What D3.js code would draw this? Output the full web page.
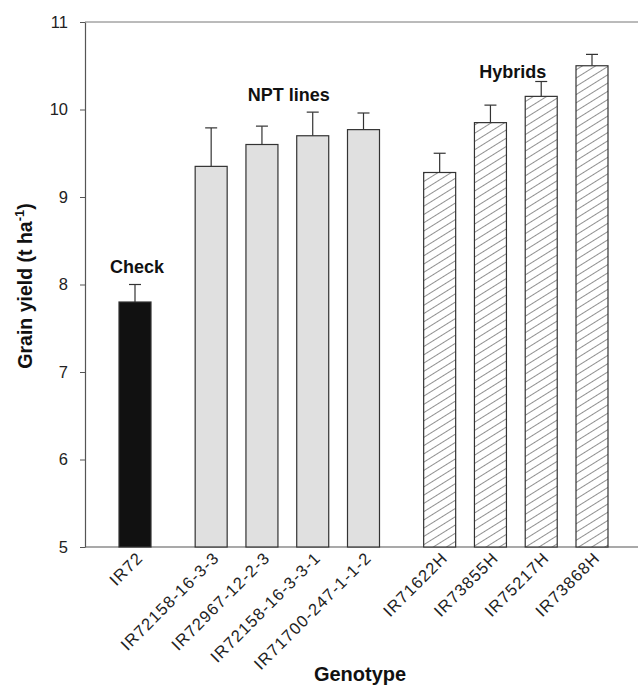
<!DOCTYPE html>
<html>
<head>
<meta charset="utf-8">
<script src="https://cdn.jsdelivr.net/npm/d3@7"></script>
<style>
  body { margin: 0; background: #fff; }
  svg { font-family: Arial, "Liberation Sans", sans-serif; }
</style>
</head>
<body>
<div id="chart"></div>
<script>
// Grain yield by genotype
const genotypes = ['IR72', 'IR72158-16-3-3', 'IR72967-12-2-3', 'IR72158-16-3-3-1', 'IR71700-247-1-1-2',
                   'IR71622H', 'IR73855H', 'IR75217H', 'IR73868H'];
const groups = ['check', 'npt', 'npt', 'npt', 'npt', 'hybrid', 'hybrid', 'hybrid', 'hybrid'];
const slots = [0, 1.5, 2.5, 3.5, 4.5, 6, 7, 8, 9]; // gaps between groups
const yieldMean = [7.8, 9.35, 9.6, 9.7, 9.77, 9.28, 9.85, 10.15, 10.5];
const yieldErr = [0.2, 0.44, 0.21, 0.27, 0.19, 0.22, 0.2, 0.17, 0.13];
const yTicks = [5, 6, 7, 8, 9, 10, 11];
const groupLabels = [
  { text: 'Check', at: 0.04, y: 8.13 },
  { text: 'NPT lines', at: 3.03, y: 10.1 },
  { text: 'Hybrids', at: 7.44, y: 10.36 }
];

const width = 638, height = 686;
const margin = { top: 22, right: 0, bottom: 139, left: 85 };

const svg = d3.select('#chart').append('svg')
  .attr('width', width)
  .attr('height', height);

const defs = svg.append('defs');
const hatch = defs.append('pattern')
  .attr('id', 'hatch')
  .attr('patternUnits', 'userSpaceOnUse')
  .attr('width', 7)
  .attr('height', 7)
  .attr('patternTransform', 'rotate(58)');
hatch.append('rect').attr('width', 7).attr('height', 7).attr('fill', '#fff');
hatch.append('line')
  .attr('x1', 0).attr('y1', 0).attr('x2', 0).attr('y2', 7)
  .attr('stroke', '#333').attr('stroke-width', 1.1);

const fills = { check: '#111', npt: '#e0e0e0', hybrid: 'url(#hatch)' };

const x = d3.scaleLinear()
  .domain([0, 9])
  .range([135, 592]);

const y = d3.scaleLinear()
  .domain([5, 11])
  .range([height - margin.bottom, margin.top]);

const barW = 32;

// top frame line and baseline
svg.append('line')
  .attr('x1', margin.left).attr('x2', width)
  .attr('y1', y(11)).attr('y2', y(11))
  .attr('stroke', '#777').attr('stroke-width', 1);
svg.append('line')
  .attr('x1', margin.left).attr('x2', width)
  .attr('y1', y(5)).attr('y2', y(5))
  .attr('stroke', '#555').attr('stroke-width', 1.2);

// y axis
const yAxis = svg.append('g')
  .attr('transform', `translate(${margin.left},0)`)
  .call(d3.axisLeft(y).tickValues(yTicks).tickFormat(d3.format('d'))
    .tickSize(5).tickPadding(12).tickSizeOuter(0));
yAxis.select('.domain').attr('stroke', '#555').attr('stroke-width', 1.2);
yAxis.selectAll('.tick line').attr('stroke', '#555');
yAxis.selectAll('.tick text').attr('font-size', 16.5).attr('fill', '#222');

// error bars (upper only)
const err = svg.append('g').attr('stroke', '#333').attr('stroke-width', 1.2);
genotypes.forEach((g, i) => {
  const cx = x(slots[i]);
  err.append('line')
    .attr('x1', cx).attr('x2', cx)
    .attr('y1', y(yieldMean[i])).attr('y2', y(yieldMean[i] + yieldErr[i]));
  err.append('line')
    .attr('x1', cx - 6).attr('x2', cx + 6)
    .attr('y1', y(yieldMean[i] + yieldErr[i])).attr('y2', y(yieldMean[i] + yieldErr[i]));
});

// bars
svg.append('g').selectAll('rect')
  .data(genotypes)
  .enter()
  .append('rect')
  .attr('x', (d, i) => x(slots[i]) - barW / 2)
  .attr('y', (d, i) => y(yieldMean[i]))
  .attr('width', barW)
  .attr('height', (d, i) => y(5) - y(yieldMean[i]))
  .attr('fill', (d, i) => fills[groups[i]])
  .attr('stroke', '#333')
  .attr('stroke-width', 1.2);

// x tick labels
svg.append('g').selectAll('text')
  .data(genotypes)
  .enter()
  .append('text')
  .attr('transform', (d, i) => `translate(${x(slots[i]) + 9},${y(5) + 12}) rotate(-45)`)
  .attr('text-anchor', 'end')
  .attr('font-size', 16.5)
  .attr('letter-spacing', 1.1)
  .attr('fill', '#222')
  .text(d => d);

// group labels
svg.append('g').selectAll('text')
  .data(groupLabels)
  .enter()
  .append('text')
  .attr('x', d => x(d.at))
  .attr('y', d => y(d.y))
  .attr('text-anchor', 'middle')
  .attr('font-size', 18)
  .attr('font-weight', 'bold')
  .attr('fill', '#111')
  .text(d => d.text);

// axis titles
svg.append('text')
  .attr('x', 360)
  .attr('y', 681)
  .attr('text-anchor', 'middle')
  .attr('font-size', 20)
  .attr('font-weight', 'bold')
  .attr('fill', '#111')
  .text('Genotype');

const yTitle = svg.append('text')
  .attr('transform', 'translate(32,286) rotate(-90)')
  .attr('text-anchor', 'middle')
  .attr('font-size', 19.5)
  .attr('font-weight', 'bold')
  .attr('fill', '#111');
yTitle.append('tspan').text('Grain yield (t ha');
yTitle.append('tspan').attr('dy', -8).attr('font-size', 13).text('-1');
yTitle.append('tspan').attr('dy', 8).text(')');
</script>
</body>
</html>
